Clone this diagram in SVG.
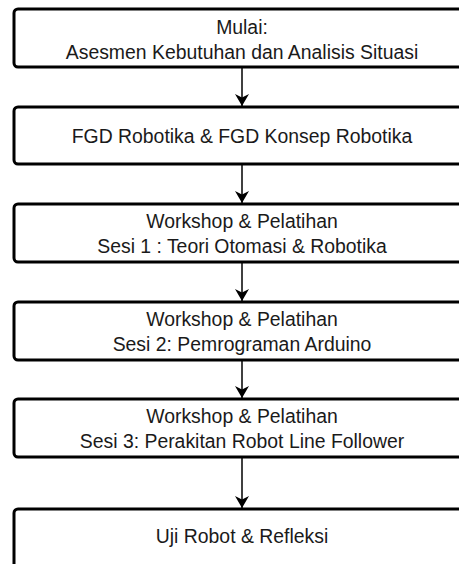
<svg xmlns="http://www.w3.org/2000/svg" width="459" height="564" viewBox="0 0 459 564">
<defs>
<style>
.box{fill:#fff;stroke:#000;stroke-width:3}
.t{font-family:"Liberation Sans",Arial,sans-serif;font-size:19.4px;fill:#1a1a1a;text-anchor:middle}
.c{stroke:#000;stroke-width:1.5;fill:none}
</style>
<marker id="arr" viewBox="0 0 14 14" refX="13" refY="7" markerWidth="14" markerHeight="14" markerUnits="userSpaceOnUse" orient="auto">
<path d="M13 7 L1 0 L4.5 7 L1 14 Z" fill="#000"/>
</marker>
</defs>
<rect width="459" height="564" fill="#fff"/>
<g id="connectors">
<line class="c" x1="242" y1="67" x2="242" y2="106" marker-end="url(#arr)"/>
<line class="c" x1="242" y1="164" x2="242" y2="203" marker-end="url(#arr)"/>
<line class="c" x1="242" y1="262" x2="242" y2="301" marker-end="url(#arr)"/>
<line class="c" x1="242" y1="360" x2="242" y2="398" marker-end="url(#arr)"/>
<line class="c" x1="242" y1="457" x2="242" y2="508" marker-end="url(#arr)"/>
</g>
<g id="n1">
<rect class="box" x="14" y="9" width="456" height="58" rx="4"/>
<text class="t" x="242" y="33.5">Mulai:</text>
<text class="t" x="242" y="58.5">Asesmen Kebutuhan dan Analisis Situasi</text>
</g>
<g id="n2">
<rect class="box" x="14" y="107" width="456" height="57" rx="4"/>
<text class="t" x="242" y="142.7">FGD Robotika &amp; FGD Konsep Robotika</text>
</g>
<g id="n3">
<rect class="box" x="14" y="204" width="456" height="58" rx="4"/>
<text class="t" x="242" y="228">Workshop &amp; Pelatihan</text>
<text class="t" x="242" y="253">Sesi 1 : Teori Otomasi &amp; Robotika</text>
</g>
<g id="n4">
<rect class="box" x="14" y="302" width="456" height="58" rx="4"/>
<text class="t" x="242" y="326">Workshop &amp; Pelatihan</text>
<text class="t" x="242" y="351">Sesi 2: Pemrograman Arduino</text>
</g>
<g id="n5">
<rect class="box" x="14" y="399" width="456" height="58" rx="4"/>
<text class="t" x="242" y="423">Workshop &amp; Pelatihan</text>
<text class="t" x="242" y="448">Sesi 3: Perakitan Robot Line Follower</text>
</g>
<g id="n6">
<rect class="box" x="14" y="509" width="456" height="80" rx="4"/>
<text class="t" x="242" y="543">Uji Robot &amp; Refleksi</text>
</g>
</svg>
